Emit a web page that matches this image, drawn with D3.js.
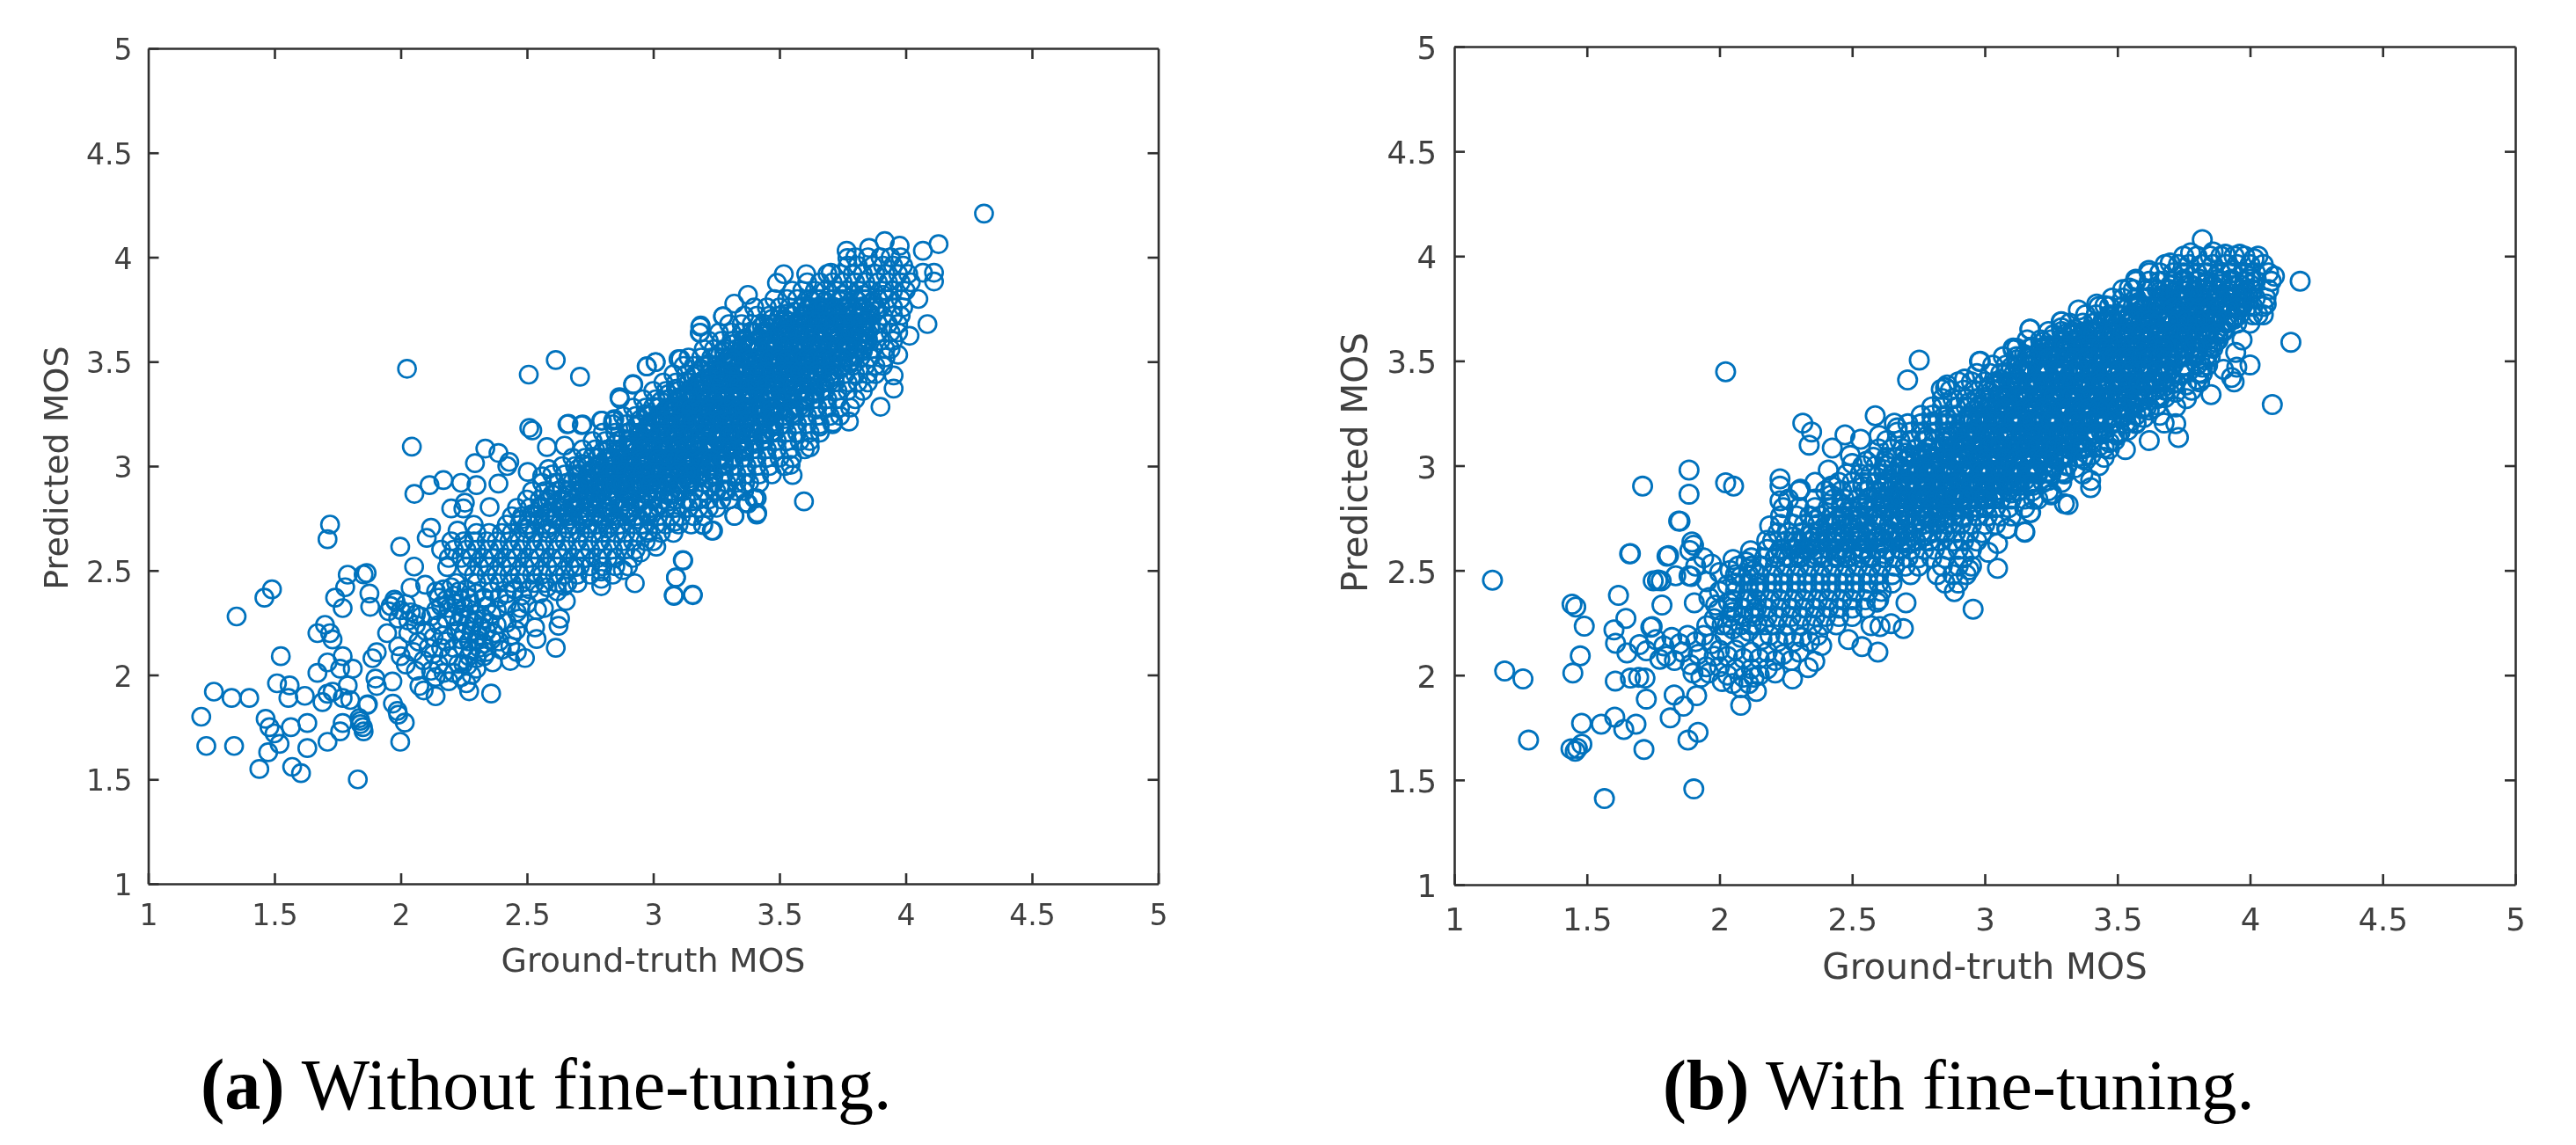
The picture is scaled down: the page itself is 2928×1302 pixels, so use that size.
<!DOCTYPE html>
<meta charset="utf-8">
<script src="https://d3js.org/d3.v7.min.js"></script>
<style>
	body{margin:0;background:#fff;}
	.plot{filter:blur(.6px);}
	.axis text{font-family:'DejaVu Sans',sans-serif;fill:#404040;}
	.axis path,.axis line{stroke:#303030;stroke-width:2.6;}
	.label{font-family:'DejaVu Sans',sans-serif;fill:#404040;}
	.caption{font-family:'Liberation Serif',serif;fill:#000;}
</style>
<div id="chart"></div>
<script>
var xTicks = [1,1.5,2,2.5,3,3.5,4,4.5,5]
var yTicks = [1,1.5,2,2.5,3,3.5,4,4.5,5]
var xTitle = "Ground-truth MOS"
var yTitle = "Predicted MOS"
var markColor = "#0072BD"

// without fine-tuning: the circles that can be told apart
var leftPoints = [[1.21,1.80],[1.23,1.66],[1.26,1.92],[1.33,1.89],[1.40,1.89],[1.34,1.66],[1.35,2.28],[1.46,2.37],[1.49,2.41],[1.44,1.55],[1.475,1.63],[1.465,1.79],[1.48,1.75],[1.50,1.72],[1.52,1.67],[1.525,2.09],[1.51,1.96],[1.56,1.95],[1.555,1.89],[1.565,1.75],[1.62,1.90],[1.63,1.77],[1.63,1.65],[1.57,1.56],[1.605,1.53],[1.83,1.50],[1.71,1.68],[1.76,1.73],[1.77,1.77],[1.84,1.78],[1.85,1.75],[1.87,1.86],[1.99,1.81],[1.69,1.87],[1.71,1.91],[1.73,1.92],[1.77,1.89],[1.80,1.88],[1.79,1.95],[1.67,2.01],[1.71,2.06],[1.77,2.09],[1.81,2.03],[1.76,2.03],[1.67,2.20],[1.70,2.24],[1.72,2.20],[1.73,2.17],[1.74,2.37],[1.77,2.32],[1.79,2.48],[1.78,2.42],[1.72,2.72],[1.71,2.65],[2.025,3.466],[2.507,3.438],[2.614,3.508],[2.71,3.428],[2.044,3.093],[2.521,3.171],[2.509,3.183],[2.66,3.20],[2.72,3.20],[2.794,3.218],[2.846,3.225],[2.866,3.33],[2.92,3.39],[2.974,3.477],[3.009,3.498],[3.10,3.512],[3.186,3.667],[3.186,3.639],[3.276,3.716],[2.579,3.091],[2.649,3.098],[2.335,3.084],[2.387,3.063],[2.294,3.014],[2.422,3.0],[2.43,3.02],[2.503,2.972],[2.585,2.986],[2.56,2.951],[2.169,2.933],[2.114,2.909],[2.054,2.867],[2.239,2.92],[2.30,2.909],[2.387,2.916],[2.352,2.804],[2.2,2.797],[2.248,2.797],[2.254,2.825],[2.12,2.705],[2.103,2.656],[2.225,2.691],[2.289,2.719],[1.998,2.614],[2.053,2.519],[2.184,2.516],[2.097,2.432],[2.039,2.418],[1.865,2.488],[1.853,2.481],[1.876,2.39],[1.879,2.326],[1.952,2.305],[1.975,2.361],[1.946,2.2],[1.905,2.109],[1.888,2.08],[1.99,2.137],[1.967,1.969],[1.905,1.947],[1.9,1.983],[1.867,1.856],[1.969,1.863],[1.987,1.828],[2.016,1.772],[1.998,1.68],[1.841,1.765],[1.853,1.73],[1.836,1.793],[2.074,1.947],[2.091,1.926],[2.138,1.898],[2.138,1.99],[2.271,1.922],[2.358,1.911],[2.614,2.13],[2.538,2.172],[2.532,2.228],[2.492,2.081],[2.434,2.067],[2.364,2.06],[2.631,2.27],[2.625,2.235],[2.654,2.354],[2.648,2.425],[2.567,2.32],[2.474,2.32],[2.457,2.214],[2.434,2.137],[2.265,2.046],[2.248,2.053],[2.228,2.053],[2.794,2.425],[2.794,2.46],[2.794,2.495],[2.927,2.439],[2.88,2.502],[2.69,2.516],[3.119,2.548],[3.09,2.467],[3.082,2.378],[3.157,2.382],[3.012,2.614],[2.95,2.586],[2.98,2.691],[3.237,2.691],[3.198,2.717],[3.084,2.733],[3.322,2.762],[3.412,2.776],[3.368,2.825],[3.41,2.846],[3.282,2.888],[3.229,2.902],[3.363,2.916],[4.31,4.209],[4.13,4.063],[4.068,4.031],[3.976,4.055],[3.917,4.077],[3.855,4.045],[3.766,4.031],[3.769,3.996],[4.112,3.926],[4.112,3.884],[4.068,3.926],[4.05,3.8],[4.086,3.68],[4.015,3.624],[3.97,3.533],[3.952,3.434],[3.952,3.371],[3.9,3.284],[3.775,3.213],[3.712,3.21],[3.659,3.189],[3.62,3.09],[3.552,2.957],[3.544,3.006],[3.597,2.831],[3.41,2.768],[3.401,2.845],[3.375,2.82],[3.321,2.761],[3.232,2.691],[3.197,2.719],[3.286,2.88],[3.117,2.55],[3.09,2.466],[3.081,2.382],[3.156,2.385],[3.152,2.831],[3.517,3.919],[3.49,3.877],[3.606,3.919],[3.703,3.926],[3.375,3.82],[3.321,3.778],[3.277,3.718],[3.188,3.673],[3.184,3.638],[3.108,3.512],[3.01,3.498],[2.975,3.477],[2.921,3.393],[2.868,3.322],[2.797,3.217],[2.664,3.203],[2.717,3.196],[2.841,3.217],
[1.96,2.33],[1.98,2.35],[2.0,2.31],[2.02,2.34],[2.04,2.30],[1.99,2.27],[2.03,2.26],[2.06,2.24],[2.08,2.28],[2.10,2.21],[2.07,2.16],[2.11,2.13],[2.05,2.11],[2.09,2.07],[2.13,2.10],[2.15,2.05],[2.17,2.01],[2.12,2.02],[2.06,2.02],[2.02,2.05],[2.00,2.09],[2.19,1.97],[2.21,2.01],[2.24,1.99],[2.26,1.96],[2.28,2.00],[2.30,2.03],[2.12,2.28],[2.15,2.24],[2.18,2.27],[2.13,2.18],[2.17,2.19],[2.16,2.13],[2.19,2.09],[2.21,2.13],[2.18,2.16],[2.03,2.2],[2.06,2.29],
[2.14,2.40],[2.17,2.41],[2.20,2.42],[2.23,2.40],[2.26,2.41],[2.15,2.37],[2.18,2.36],[2.21,2.38],[2.24,2.36],[2.27,2.37],[2.30,2.39],[2.16,2.33],[2.19,2.32],[2.22,2.34],[2.25,2.32],[2.28,2.34],[2.14,2.31],[2.33,2.37],[2.36,2.40],[2.39,2.37],[2.42,2.39],[2.45,2.41],[2.48,2.38],[2.51,2.41],[2.55,2.39],[2.58,2.42],[2.62,2.40],[2.34,2.33],[2.38,2.31],[2.42,2.34],[2.46,2.30],[2.50,2.34],[2.54,2.31],
[2.21,2.28],[2.24,2.29],[2.27,2.27],[2.30,2.29],[2.33,2.27],[2.36,2.29],[2.23,2.25],[2.26,2.24],[2.29,2.25],[2.32,2.23],[2.35,2.25],[2.38,2.24],[2.22,2.21],[2.25,2.20],[2.28,2.21],[2.31,2.19],[2.34,2.21],[2.37,2.20],[2.24,2.17],[2.27,2.16],[2.30,2.17],[2.33,2.15],[2.36,2.17],[2.39,2.16],[2.25,2.13],[2.28,2.12],[2.31,2.13],[2.34,2.11],[2.27,2.09],[2.30,2.08],[2.33,2.09],[2.42,2.25],[2.47,2.27],[2.44,2.19],[2.40,2.12],[2.46,2.11]]

// without fine-tuning: the solid band, row by row
var leftCoreY = [4.00,3.96,3.92,3.88,3.84,3.80,3.76,3.72,3.68,3.64,3.60,3.56,3.52,3.48,3.44,3.40,3.36,3.32,3.28,3.24,3.20,3.16,3.12,3.08,3.04,3.00,2.96,2.92,2.88,2.84,2.80,2.76,2.72,2.68,2.64,2.60,2.56,2.52,2.48,2.44]
var leftCoreX = [
[3.80,3.85,3.90,3.94,3.98],
[3.77,3.81,3.87,3.91,3.95,3.99],
[3.69,3.74,3.79,3.83,3.88,3.92,3.97,4.01],
[3.61,3.66,3.71,3.75,3.80,3.84,3.89,3.93,3.98,4.02],
[3.55,3.59,3.64,3.68,3.73,3.77,3.82,3.86,3.91,3.95,4.00],
[3.48,3.53,3.57,3.62,3.66,3.71,3.75,3.80,3.84,3.89,3.93,3.98],
[3.40,3.45,3.50,3.54,3.59,3.63,3.68,3.72,3.77,3.81,3.86,3.90,3.95,3.99],
[3.36,3.41,3.46,3.50,3.55,3.59,3.64,3.68,3.73,3.77,3.82,3.86,3.91,3.95,3.98],
[3.30,3.35,3.39,3.44,3.48,3.53,3.57,3.62,3.66,3.71,3.75,3.80,3.84,3.89,3.93,3.97],
[3.26,3.31,3.35,3.40,3.44,3.49,3.53,3.58,3.62,3.67,3.71,3.76,3.80,3.85,3.89,3.94,3.97],
[3.22,3.27,3.31,3.36,3.40,3.45,3.49,3.54,3.58,3.63,3.67,3.72,3.76,3.81,3.85,3.90,3.95],
[3.20,3.24,3.29,3.33,3.38,3.42,3.47,3.51,3.56,3.60,3.65,3.69,3.74,3.78,3.83,3.87,3.92,3.94],
[3.14,3.19,3.23,3.28,3.32,3.37,3.41,3.46,3.50,3.55,3.59,3.64,3.68,3.73,3.77,3.82,3.86,3.92],
[3.12,3.16,3.21,3.25,3.30,3.34,3.39,3.43,3.48,3.52,3.57,3.61,3.66,3.70,3.75,3.79,3.84,3.88,3.91],
[3.08,3.13,3.17,3.22,3.26,3.31,3.35,3.40,3.44,3.49,3.53,3.58,3.62,3.67,3.71,3.76,3.80,3.85,3.88],
[3.04,3.09,3.14,3.18,3.23,3.27,3.32,3.36,3.41,3.45,3.50,3.54,3.59,3.63,3.68,3.72,3.77,3.81,3.85],
[3.00,3.05,3.10,3.14,3.19,3.23,3.28,3.32,3.37,3.41,3.46,3.50,3.55,3.59,3.64,3.68,3.73,3.77,3.83],
[2.96,3.01,3.06,3.10,3.15,3.19,3.24,3.28,3.33,3.37,3.42,3.46,3.51,3.55,3.60,3.64,3.69,3.73,3.80],
[2.92,2.97,3.02,3.06,3.11,3.15,3.20,3.24,3.29,3.33,3.38,3.42,3.47,3.51,3.56,3.60,3.65,3.69,3.74,3.78],
[2.88,2.93,2.98,3.02,3.07,3.11,3.16,3.20,3.25,3.29,3.34,3.38,3.43,3.47,3.52,3.56,3.61,3.65,3.70,3.74],
[2.84,2.89,2.94,2.98,3.03,3.07,3.12,3.16,3.21,3.25,3.30,3.34,3.39,3.43,3.48,3.52,3.57,3.61,3.66,3.71],
[2.80,2.85,2.90,2.94,2.99,3.03,3.08,3.12,3.17,3.21,3.26,3.30,3.35,3.39,3.44,3.48,3.53,3.57,3.62,3.66],
[2.76,2.81,2.86,2.90,2.95,2.99,3.04,3.08,3.13,3.17,3.22,3.26,3.31,3.35,3.40,3.44,3.49,3.53,3.58,3.62],
[2.72,2.77,2.82,2.86,2.91,2.95,3.00,3.04,3.09,3.13,3.18,3.22,3.27,3.31,3.36,3.40,3.45,3.49,3.54,3.60],
[2.68,2.73,2.78,2.82,2.87,2.91,2.96,3.00,3.05,3.09,3.14,3.18,3.23,3.27,3.32,3.36,3.41,3.45,3.50,3.55],
[2.64,2.69,2.74,2.78,2.83,2.87,2.92,2.96,3.01,3.05,3.10,3.14,3.19,3.23,3.28,3.32,3.37,3.41,3.46,3.52],
[2.60,2.65,2.70,2.74,2.79,2.83,2.88,2.92,2.97,3.01,3.06,3.10,3.15,3.19,3.24,3.28,3.33,3.37,3.42,3.47],
[2.56,2.61,2.66,2.70,2.75,2.79,2.84,2.88,2.93,2.97,3.02,3.06,3.11,3.15,3.20,3.24,3.29,3.33,3.38,3.42],
[2.52,2.57,2.62,2.66,2.71,2.75,2.80,2.84,2.89,2.93,2.98,3.02,3.07,3.11,3.16,3.20,3.25,3.29,3.33,3.36],
[2.50,2.55,2.59,2.64,2.68,2.73,2.77,2.82,2.86,2.91,2.95,3.00,3.04,3.09,3.13,3.18,3.22,3.27,3.30],
[2.46,2.51,2.55,2.60,2.64,2.69,2.73,2.78,2.82,2.87,2.91,2.96,3.00,3.05,3.09,3.14,3.18,3.22,3.25],
[2.44,2.48,2.53,2.57,2.62,2.66,2.71,2.75,2.80,2.84,2.89,2.93,2.98,3.02,3.07,3.11,3.16,3.20],
[2.42,2.47,2.51,2.56,2.60,2.65,2.69,2.74,2.78,2.83,2.87,2.92,2.96,3.01,3.05,3.10,3.15],
[2.30,2.35,2.40,2.44,2.49,2.53,2.58,2.62,2.67,2.71,2.76,2.80,2.85,2.89,2.94,2.98,3.03,3.08],
[2.20,2.25,2.29,2.34,2.38,2.43,2.47,2.52,2.56,2.61,2.65,2.70,2.74,2.79,2.83,2.88,2.92,2.97,3.00],
[2.16,2.21,2.26,2.30,2.35,2.39,2.44,2.48,2.53,2.57,2.62,2.66,2.71,2.75,2.80,2.84,2.89,2.93],
[2.19,2.24,2.28,2.33,2.37,2.42,2.46,2.51,2.55,2.60,2.64,2.69,2.73,2.78,2.82,2.85,2.92],
[2.26,2.31,2.35,2.40,2.44,2.49,2.53,2.58,2.62,2.67,2.71,2.75,2.80,2.85,2.90],
[2.29,2.34,2.38,2.43,2.47,2.52,2.56,2.61,2.65,2.70,2.75,2.84],
[2.22,2.30,2.35,2.39,2.44,2.48,2.53,2.57,2.62,2.66,2.70]]
// extra rows inside the band where it reads as solid
var leftFillY = [3.82,3.74,3.66,3.58,3.50,3.42,3.34,3.26,3.18,3.10,3.02,2.94,2.86,2.78,2.70,
	3.79,3.765,3.73,3.705,3.67,3.645,3.61,3.585,3.55,3.525,3.49,3.465,3.43,3.405,3.37,3.345,3.31,3.285,3.25,3.225,3.19,3.165,3.13,3.105,3.07,3.045,3.01,2.985,2.95,2.925,2.89,2.865,2.83,2.805,2.77,2.745,
	3.752,3.692,3.632,3.572,3.512,3.452,3.392,3.332,3.272,3.212,3.152,3.092,3.032,2.972,2.912]
var leftFillX = [
[3.75,3.83,3.91],
[3.56,3.64,3.72,3.80,3.88],
[3.46,3.54,3.62,3.70,3.78,3.86],
[3.38,3.46,3.54,3.62,3.70,3.78,3.84],
[3.30,3.38,3.46,3.54,3.62,3.70,3.78],
[3.22,3.30,3.38,3.46,3.54,3.62,3.70],
[3.14,3.22,3.30,3.38,3.46,3.54,3.62],
[3.06,3.14,3.22,3.30,3.38,3.46,3.54],
[2.98,3.06,3.14,3.22,3.30,3.38,3.46],
[2.90,2.98,3.06,3.14,3.22,3.30,3.38],
[2.82,2.90,2.98,3.06,3.14,3.22,3.30],
[2.74,2.82,2.90,2.98,3.06,3.14,3.22],
[2.66,2.74,2.82,2.90,2.98,3.06],
[2.58,2.66,2.74,2.82,2.90,2.98],
[2.50,2.58,2.66,2.74,2.82],
[3.63,3.68,3.74,3.81,3.87],
[3.59,3.66,3.71,3.77,3.83,3.88],
[3.53,3.61,3.67,3.72,3.79,3.86],
[3.47,3.52,3.59,3.65,3.73,3.78,3.85],
[3.43,3.51,3.56,3.63,3.69,3.75,3.81,3.86],
[3.39,3.45,3.52,3.57,3.64,3.72,3.77,3.84],
[3.36,3.43,3.48,3.55,3.61,3.67,3.73,3.79,3.85],
[3.32,3.37,3.45,3.51,3.56,3.63,3.69,3.76,3.83],
[3.28,3.35,3.41,3.47,3.53,3.59,3.65,3.71,3.77,3.83],
[3.25,3.31,3.36,3.44,3.49,3.56,3.61,3.68,3.74,3.80],
[3.22,3.29,3.34,3.41,3.47,3.52,3.59,3.65,3.71,3.78],
[3.19,3.25,3.32,3.37,3.43,3.51,3.56,3.62,3.67,3.74],
[3.16,3.23,3.28,3.35,3.41,3.47,3.53,3.58,3.65,3.72],
[3.13,3.19,3.26,3.31,3.38,3.43,3.49,3.56,3.63,3.70],
[3.09,3.17,3.22,3.29,3.34,3.41,3.47,3.53,3.59,3.67],
[3.06,3.13,3.19,3.25,3.32,3.37,3.44,3.51,3.57,3.64],
[3.03,3.09,3.15,3.21,3.28,3.33,3.39,3.46,3.53,3.60],
[3.00,3.07,3.12,3.19,3.25,3.31,3.37,3.43,3.49,3.58],
[2.97,3.03,3.09,3.16,3.21,3.27,3.33,3.41,3.47,3.55],
[2.95,3.01,3.07,3.13,3.19,3.26,3.31,3.37,3.45,3.52],
[2.93,2.98,3.05,3.11,3.17,3.23,3.29,3.36,3.42,3.50],
[2.91,2.97,3.03,3.09,3.14,3.21,3.27,3.33,3.39,3.47],
[2.88,2.95,3.01,3.06,3.13,3.18,3.25,3.31,3.37,3.44],
[2.85,2.91,2.97,3.04,3.09,3.16,3.21,3.28,3.34,3.40],
[2.80,2.87,2.93,2.99,3.05,3.11,3.17,3.23,3.29,3.36],
[2.76,2.83,2.89,2.95,3.01,3.08,3.13,3.19,3.26,3.32],
[2.72,2.79,2.85,2.91,2.97,3.03,3.09,3.15,3.21,3.28],
[2.70,2.76,2.83,2.88,2.95,3.01,3.07,3.13,3.22],
[2.70,2.77,2.82,2.89,2.95,3.02,3.07,3.13,3.18],
[2.68,2.75,2.81,2.87,2.93,2.99,3.05,3.14],
[2.64,2.71,2.77,2.83,2.89,2.95,3.01,3.10],
[2.60,2.67,2.73,2.79,2.85,2.91,2.97,3.08],
[2.58,2.64,2.71,2.76,2.83,2.89,2.95,3.06],
[2.56,2.63,2.68,2.75,2.81,2.87,2.93,3.02],
[2.52,2.59,2.65,2.71,2.77,2.83,2.90,2.98],
[2.48,2.55,2.61,2.67,2.73,2.79,2.85,2.94],
[3.61,3.65,3.69,3.72,3.76,3.79,3.83],
[3.51,3.54,3.58,3.61,3.65,3.68,3.72,3.75,3.79,3.83],
[3.43,3.46,3.50,3.53,3.57,3.60,3.64,3.67,3.71,3.74,3.78,3.82],
[3.35,3.38,3.42,3.45,3.49,3.52,3.56,3.59,3.63,3.66,3.70,3.73,3.77,3.81],
[3.29,3.32,3.36,3.39,3.43,3.46,3.50,3.53,3.57,3.60,3.64,3.67,3.71,3.75],
[3.23,3.26,3.30,3.33,3.37,3.40,3.44,3.47,3.51,3.54,3.58,3.61,3.65,3.70],
[3.17,3.20,3.24,3.27,3.31,3.34,3.38,3.41,3.45,3.48,3.52,3.55,3.59,3.66],
[3.11,3.14,3.18,3.21,3.25,3.28,3.32,3.35,3.39,3.42,3.46,3.49,3.53,3.60],
[3.05,3.08,3.12,3.15,3.19,3.22,3.26,3.29,3.33,3.36,3.40,3.43,3.47,3.54],
[2.99,3.02,3.06,3.09,3.13,3.16,3.20,3.23,3.27,3.30,3.34,3.37,3.41,3.48],
[2.95,2.98,3.02,3.05,3.09,3.12,3.16,3.19,3.23,3.26,3.30,3.33,3.37,3.44],
[2.89,2.92,2.96,2.99,3.03,3.06,3.10,3.13,3.17,3.20,3.24,3.27,3.31,3.36],
[2.81,2.84,2.88,2.91,2.95,2.98,3.02,3.05,3.09,3.12,3.16,3.19,3.23,3.28],
[2.75,2.78,2.82,2.85,2.89,2.92,2.96,2.99,3.03,3.06,3.10,3.13,3.17,3.21],
[2.71,2.74,2.78,2.81,2.85,2.88,2.92,2.95,2.99,3.02,3.06,3.10,3.13]]

// with fine-tuning: the circles that can be told apart
var rightPoints = [[1.144,2.453],[1.19,2.02],[1.259,1.982],[1.28,1.69],[1.566,1.411],[1.903,1.457],[1.44,1.649],[1.456,1.637],[1.481,1.671],[1.464,1.651],[1.48,1.77],[1.554,1.766],[1.605,1.8],[1.639,1.741],[1.685,1.766],[1.715,1.645],[1.444,2.339],[1.458,2.325],[1.49,2.234],[1.475,2.092],[1.447,2.01],[1.619,2.381],[1.647,2.271],[1.602,2.216],[1.608,2.152],[1.607,1.972],[1.661,2.579],[1.746,2.232],[1.651,2.106],[1.698,2.146],[1.724,2.116],[1.719,1.986],[1.724,1.886],[1.664,1.986],[1.695,1.99],[1.775,2.076],[1.783,2.335],[1.766,2.451],[1.75,2.45],[1.78,2.45],[1.808,2.571],[1.851,2.735],[1.885,2.864],[1.902,2.62],[1.888,2.595],[1.893,2.471],[1.905,2.345],[1.829,1.906],[1.864,1.852],[1.914,1.902],[1.814,1.796],[1.881,1.69],[1.919,1.727],[2.08,1.856],[2.139,1.922],[2.275,1.982],[2.334,2.036],[2.359,2.066],[2.385,2.142],[2.486,2.17],[2.537,2.136],[2.597,2.11],[2.571,2.236],[2.605,2.232],[2.647,2.246],[2.693,2.222],[2.703,2.345],[2.956,2.315],[2.885,2.399],[2.023,3.448],[2.753,3.504],[2.709,3.409],[2.836,3.364],[2.858,3.385],[2.98,3.497],[3.107,3.553],[3.17,3.651],[3.289,3.686],[3.289,3.658],[2.924,3.413],[2.803,3.21],[2.587,3.238],[2.659,3.203],[2.67,3.18],[2.314,3.203],[2.347,3.161],[2.338,3.098],[2.473,3.147],[2.425,3.084],[2.532,3.126],[2.602,3.144],[2.493,3.049],[2.554,3.021],[2.50,3.01],[2.41,2.979],[2.626,3.021],[1.885,2.979],[1.71,2.902],[2.023,2.918],[2.053,2.902],[1.846,2.736],[2.228,2.937],[2.228,2.902],[2.305,2.888],[2.228,2.832],[2.421,2.902],[2.421,2.86],[2.189,2.713],[2.178,2.643],[2.117,2.594],[2.051,2.552],[1.896,2.636],[1.802,2.568],[1.664,2.58],[1.769,2.454],[1.835,2.474],[1.885,2.474],[1.952,2.446],[1.996,2.313],[1.985,2.335],[2.034,2.348],[1.741,2.229],[1.952,2.236],[2.593,2.348],[3.048,2.51],[3.151,2.682],[3.085,2.7],[3.048,2.629],[3.013,2.587],[2.941,2.503],[3.173,2.776],[3.25,2.86],[3.184,2.839],[3.3,2.818],[3.82,4.079],[4.189,3.88],[4.154,3.589],[4.084,3.292],[4.092,3.904],[3.946,3.54],[4.0,3.481],[3.93,3.421],[3.94,3.40],[3.853,3.339],[3.73,3.134],[3.676,3.204],[3.53,3.077],[3.399,2.895],[3.399,2.93],[3.314,2.814],[3.253,2.867],[3.15,2.685],[3.171,2.776],[3.083,2.699],[3.699,3.967],[3.618,3.932],[3.545,3.848],[3.569,3.89],[3.422,3.771],[3.453,3.764],[3.353,3.743],[3.288,3.687],[3.171,3.652],[3.107,3.561],[2.983,3.498],[2.852,3.372],[3.861,4.02],[3.907,4.009],[3.961,4.009],[4.015,3.988],[4.061,3.771],[3.776,4.016],[3.9,3.46],[3.95,3.47],[3.72,3.2],[3.62,3.12],[3.97,3.6],[4.03,3.72],
[1.76,2.17],[1.79,2.14],[1.82,2.18],[1.85,2.15],[1.88,2.19],[1.91,2.16],[1.94,2.19],[1.97,2.15],[1.80,2.09],[1.83,2.07],[1.86,2.11],[1.89,2.05],[1.92,2.10],[1.95,2.04],[1.98,2.09],[1.90,2.01],[1.93,1.99],[1.96,2.01],[2.00,2.04],[2.03,2.00],[2.06,2.03],[2.09,1.99],[2.12,2.03],[2.15,2.00],[2.01,1.97],[2.05,1.96],[2.08,1.94],[2.11,1.96],[2.13,1.99],[2.00,2.12],[2.03,2.09],[2.06,2.12],[2.09,2.08],[2.12,2.11],[2.15,2.08],[2.18,2.11],[2.21,2.07],[2.24,2.10],[2.27,2.07],[2.30,2.11],[2.18,2.03],[2.21,2.01],[2.16,2.17],[2.19,2.19],[2.22,2.16],[2.25,2.19],[2.28,2.16],[2.31,2.18],[2.34,2.16],[2.37,2.19],[2.02,2.19],[2.05,2.22],[2.08,2.18],[2.11,2.21],[2.14,2.24],[1.98,2.27],[2.01,2.24],[2.05,2.30],[1.96,2.37],[2.0,2.40],[2.03,2.43],[1.97,2.53],[2.0,2.49],[2.04,2.50],[2.08,2.47],[1.91,2.52],[1.94,2.56],[2.10,2.54],[2.13,2.50],[2.14,2.42],[2.11,2.36],[2.13,2.30],[2.09,2.28]]

// with fine-tuning: the solid band, row by row
var rightCoreY = [4.00,3.96,3.92,3.88,3.84,3.80,3.76,3.72,3.68,3.64,3.60,3.56,3.52,3.48,3.44,3.40,3.36,3.32,3.28,3.24,3.20,3.16,3.12,3.08,3.04,3.00,2.96,2.92,2.88,2.84,2.80,2.76,2.72,2.68,2.64,2.60,2.56,2.52,2.48,2.44,2.40,2.36,2.32,2.28,2.24]
var rightCoreX = [
[3.75,3.80,3.85,3.89,3.94,3.98,4.03],
[3.68,3.73,3.77,3.82,3.86,3.91,3.95,4.00,4.05],
[3.62,3.66,3.71,3.75,3.80,3.84,3.89,3.93,3.98,4.02,4.07],
[3.57,3.62,3.66,3.71,3.75,3.80,3.84,3.89,3.93,3.98,4.02,4.08],
[3.52,3.56,3.61,3.65,3.70,3.74,3.79,3.83,3.88,3.92,3.97,4.01,4.07],
[3.48,3.52,3.57,3.61,3.66,3.70,3.75,3.79,3.84,3.88,3.93,3.97,4.02,4.06],
[3.43,3.47,3.52,3.56,3.61,3.65,3.70,3.74,3.79,3.83,3.88,3.92,3.97,4.01,4.05],
[3.38,3.42,3.47,3.51,3.56,3.60,3.65,3.69,3.74,3.78,3.83,3.87,3.92,3.96,4.01,4.05],
[3.32,3.37,3.41,3.46,3.50,3.55,3.59,3.64,3.68,3.73,3.77,3.82,3.86,3.91,3.95,4.00],
[3.24,3.29,3.33,3.38,3.42,3.47,3.51,3.56,3.60,3.65,3.69,3.74,3.78,3.83,3.87,3.90],
[3.16,3.21,3.25,3.30,3.34,3.39,3.43,3.48,3.52,3.57,3.61,3.66,3.70,3.75,3.79,3.84,3.88],
[3.12,3.17,3.21,3.26,3.30,3.35,3.39,3.44,3.48,3.53,3.57,3.62,3.66,3.71,3.75,3.80,3.86],
[3.07,3.12,3.16,3.21,3.25,3.30,3.34,3.39,3.43,3.48,3.52,3.57,3.61,3.66,3.70,3.75,3.79,3.85],
[3.03,3.08,3.12,3.17,3.21,3.26,3.30,3.35,3.39,3.44,3.48,3.53,3.57,3.62,3.66,3.71,3.75,3.80,3.84],
[2.97,3.02,3.06,3.11,3.15,3.20,3.24,3.29,3.33,3.38,3.42,3.47,3.51,3.56,3.60,3.65,3.69,3.74,3.82],
[2.90,2.95,3.00,3.04,3.09,3.13,3.18,3.22,3.27,3.31,3.36,3.40,3.45,3.49,3.54,3.58,3.63,3.67,3.72,3.81],
[2.87,2.92,2.96,3.01,3.05,3.10,3.14,3.19,3.23,3.28,3.32,3.37,3.41,3.46,3.50,3.55,3.59,3.64,3.68,3.78],
[2.84,2.88,2.93,2.97,3.02,3.06,3.11,3.15,3.20,3.24,3.29,3.33,3.38,3.42,3.47,3.51,3.56,3.60,3.65,3.76],
[2.80,2.84,2.89,2.93,2.98,3.02,3.07,3.11,3.16,3.20,3.25,3.29,3.34,3.38,3.43,3.47,3.52,3.56,3.61,3.72],
[2.76,2.80,2.85,2.89,2.94,2.98,3.03,3.07,3.12,3.16,3.21,3.25,3.30,3.34,3.39,3.43,3.48,3.52,3.57,3.66],
[2.71,2.76,2.80,2.85,2.89,2.94,2.98,3.03,3.07,3.12,3.16,3.21,3.25,3.30,3.34,3.39,3.43,3.48,3.53,3.57],
[2.67,2.72,2.76,2.81,2.85,2.90,2.94,2.99,3.03,3.08,3.12,3.17,3.21,3.26,3.30,3.35,3.39,3.44,3.51],
[2.63,2.68,2.72,2.77,2.81,2.86,2.90,2.95,2.99,3.04,3.08,3.13,3.17,3.22,3.26,3.31,3.35,3.40,3.49],
[2.60,2.65,2.69,2.74,2.78,2.83,2.87,2.92,2.96,3.01,3.05,3.10,3.14,3.19,3.23,3.28,3.32,3.37,3.47],
[2.58,2.63,2.67,2.72,2.76,2.81,2.85,2.90,2.94,2.99,3.03,3.08,3.12,3.17,3.21,3.26,3.30,3.35,3.45],
[2.54,2.59,2.63,2.68,2.72,2.77,2.81,2.86,2.90,2.95,2.99,3.04,3.08,3.13,3.17,3.22,3.26,3.31,3.43],
[2.48,2.53,2.57,2.62,2.66,2.71,2.75,2.80,2.84,2.89,2.93,2.98,3.02,3.07,3.11,3.16,3.20,3.25,3.30,3.37],
[2.36,2.45,2.50,2.54,2.59,2.63,2.68,2.72,2.77,2.81,2.86,2.90,2.95,2.99,3.04,3.08,3.13,3.17,3.22,3.29],
[2.30,2.40,2.46,2.50,2.55,2.59,2.64,2.68,2.73,2.77,2.82,2.86,2.91,2.95,3.00,3.04,3.09,3.13,3.18,3.24],
[2.26,2.36,2.43,2.47,2.52,2.56,2.61,2.65,2.70,2.74,2.79,2.83,2.88,2.92,2.97,3.01,3.06,3.10,3.15,3.20],
[2.24,2.30,2.36,2.41,2.46,2.50,2.55,2.59,2.64,2.68,2.73,2.77,2.82,2.86,2.91,2.95,3.00,3.04,3.09,3.15],
[2.23,2.29,2.34,2.38,2.43,2.47,2.52,2.56,2.61,2.65,2.70,2.74,2.79,2.83,2.88,2.92,2.97,3.01,3.06,3.10],
[2.23,2.28,2.32,2.37,2.41,2.46,2.50,2.55,2.59,2.64,2.68,2.73,2.77,2.82,2.86,2.91,2.95,3.00,3.04],
[2.22,2.26,2.31,2.35,2.40,2.44,2.49,2.53,2.58,2.62,2.67,2.71,2.76,2.80,2.85,2.89,2.94,2.99],
[2.20,2.25,2.29,2.34,2.38,2.43,2.47,2.52,2.56,2.61,2.65,2.70,2.74,2.79,2.83,2.88,2.92,2.97],
[2.18,2.23,2.27,2.32,2.36,2.41,2.45,2.50,2.54,2.59,2.63,2.68,2.72,2.77,2.81,2.86,2.90,2.95],
[2.12,2.17,2.21,2.26,2.30,2.35,2.39,2.44,2.48,2.53,2.57,2.62,2.66,2.71,2.75,2.80,2.85,2.92],
[2.07,2.12,2.16,2.21,2.25,2.30,2.34,2.39,2.43,2.48,2.52,2.57,2.61,2.66,2.70,2.75,2.84,2.90,2.95],
[2.06,2.11,2.15,2.20,2.24,2.29,2.33,2.38,2.42,2.47,2.51,2.56,2.60,2.65,2.72,2.82,2.88,2.93],
[2.06,2.11,2.15,2.20,2.24,2.29,2.33,2.38,2.42,2.47,2.51,2.56,2.60,2.65,2.85,2.90],
[2.06,2.11,2.15,2.20,2.24,2.29,2.33,2.38,2.42,2.47,2.51,2.56,2.61],
[2.05,2.10,2.14,2.19,2.23,2.28,2.32,2.37,2.41,2.46,2.50,2.55,2.60],
[2.05,2.09,2.14,2.18,2.23,2.27,2.32,2.36,2.41,2.45,2.50,2.55],
[2.04,2.09,2.13,2.18,2.22,2.27,2.31,2.36,2.40,2.45,2.50],
[2.03,2.08,2.12,2.17,2.21,2.26,2.30,2.35,2.39,2.44]]
var rightFillY = [3.86,3.78,3.70,3.62,3.54,3.46,3.38,3.30,3.22,3.14,3.06,2.98,2.90,2.82,2.74,2.66,2.58,
	3.89,3.865,3.83,3.805,3.77,3.745,3.71,3.685,3.65,3.625,3.59,3.565,3.53,3.505,3.47,3.445,3.41,3.385,3.35,3.325,3.29,3.265,3.23,3.205,3.17,3.145,3.11,3.085,3.05,3.025,2.99,2.965,2.93,2.905,2.87,2.845,2.81,2.785,2.75,2.725,2.69,2.665,2.63,2.605,2.57,
	3.812,3.752,3.692,3.632,3.572,3.512,3.452,3.392,3.332,3.272,3.212,3.152,3.092,3.032,2.972,2.912,2.852]
var rightFillX = [
[3.70,3.78,3.86,3.94],
[3.58,3.66,3.74,3.82,3.90,3.98],
[3.46,3.54,3.62,3.70,3.78,3.86,3.94],
[3.36,3.44,3.52,3.60,3.68,3.76,3.84],
[3.24,3.32,3.40,3.48,3.56,3.64,3.72,3.80],
[3.14,3.22,3.30,3.38,3.46,3.54,3.62,3.70],
[3.04,3.12,3.20,3.28,3.36,3.44,3.52,3.60,3.68],
[2.94,3.02,3.10,3.18,3.26,3.34,3.42,3.50,3.58],
[2.86,2.94,3.02,3.10,3.18,3.26,3.34,3.42],
[2.78,2.86,2.94,3.02,3.10,3.18,3.26,3.34],
[2.70,2.78,2.86,2.94,3.02,3.10,3.18,3.26],
[2.62,2.70,2.78,2.86,2.94,3.02,3.10,3.18],
[2.54,2.62,2.70,2.78,2.86,2.94,3.02,3.10],
[2.46,2.54,2.62,2.70,2.78,2.86,2.94],
[2.36,2.44,2.52,2.60,2.68,2.76,2.84],
[2.28,2.36,2.44,2.52,2.60,2.68],
[2.22,2.30,2.38,2.46,2.54,2.62],
[3.75,3.81,3.88,3.93,4.00],
[3.71,3.77,3.83,3.89,3.96,4.00],
[3.66,3.72,3.79,3.85,3.91,3.99],
[3.62,3.69,3.74,3.81,3.87,3.93,3.98],
[3.58,3.65,3.71,3.77,3.83,3.90,3.97],
[3.53,3.59,3.66,3.72,3.78,3.84,3.91,3.96],
[3.47,3.54,3.60,3.67,3.73,3.79,3.86,3.94],
[3.42,3.49,3.55,3.61,3.68,3.74,3.81,3.87,3.92],
[3.34,3.41,3.47,3.54,3.60,3.66,3.73,3.79,3.85,3.90],
[3.26,3.33,3.39,3.45,3.52,3.58,3.65,3.71,3.77,3.84,3.88],
[3.22,3.29,3.35,3.42,3.48,3.54,3.61,3.67,3.74,3.80,3.87],
[3.18,3.24,3.31,3.37,3.44,3.50,3.56,3.63,3.69,3.76,3.85],
[3.15,3.22,3.28,3.34,3.41,3.47,3.54,3.60,3.66,3.73,3.84],
[3.12,3.18,3.25,3.31,3.38,3.44,3.50,3.57,3.63,3.70,3.83],
[3.10,3.17,3.23,3.29,3.36,3.42,3.49,3.55,3.61,3.68,3.82],
[3.08,3.14,3.21,3.27,3.34,3.40,3.46,3.53,3.59,3.66,3.81],
[3.06,3.12,3.19,3.25,3.31,3.38,3.44,3.51,3.57,3.63,3.70,3.80],
[3.04,3.10,3.17,3.23,3.30,3.36,3.42,3.49,3.55,3.62,3.76],
[3.02,3.09,3.15,3.21,3.28,3.34,3.41,3.47,3.53,3.60,3.72],
[3.00,3.06,3.13,3.19,3.26,3.32,3.38,3.45,3.51,3.58,3.68],
[2.98,3.05,3.11,3.17,3.24,3.30,3.37,3.43,3.49,3.56,3.65],
[2.96,3.02,3.09,3.15,3.22,3.28,3.34,3.41,3.47,3.54,3.62],
[2.94,3.01,3.07,3.13,3.20,3.26,3.33,3.39,3.45,3.52,3.60],
[2.92,2.98,3.05,3.11,3.18,3.24,3.30,3.37,3.43,3.57],
[2.90,2.97,3.03,3.09,3.16,3.22,3.29,3.35,3.41,3.54],
[2.88,2.94,3.01,3.07,3.14,3.20,3.26,3.33,3.39,3.50],
[2.85,2.91,2.98,3.04,3.11,3.17,3.23,3.30,3.36,3.47],
[2.80,2.87,2.93,2.99,3.06,3.12,3.19,3.25,3.31,3.38,3.45],
[2.72,2.79,2.85,2.91,2.98,3.04,3.11,3.17,3.23,3.30,3.40],
[2.70,2.76,2.83,2.89,2.96,3.02,3.08,3.15,3.21,3.28,3.38],
[2.68,2.75,2.81,2.87,2.94,3.00,3.07,3.13,3.19,3.26,3.34],
[2.66,2.72,2.79,2.85,2.92,2.98,3.04,3.11,3.17,3.24,3.30],
[2.64,2.71,2.77,2.83,2.90,2.96,3.03,3.09,3.15,3.24],
[2.62,2.68,2.75,2.81,2.88,2.94,3.00,3.07,3.13,3.18],
[2.60,2.67,2.73,2.79,2.86,2.92,2.99,3.05,3.10],
[2.56,2.62,2.69,2.75,2.82,2.88,2.94,3.01,3.04],
[2.54,2.61,2.67,2.73,2.80,2.86,2.93,3.00],
[2.50,2.56,2.63,2.69,2.76,2.82,2.88,2.96],
[2.46,2.53,2.59,2.65,2.72,2.78,2.85,2.92],
[2.42,2.48,2.55,2.61,2.68,2.74,2.80,2.88],
[2.38,2.45,2.51,2.57,2.64,2.70,2.77,2.84],
[2.34,2.40,2.47,2.53,2.60,2.66,2.72,2.78],
[2.30,2.37,2.43,2.49,2.56,2.62,2.69,2.72],
[2.28,2.34,2.41,2.47,2.54,2.60,2.68],
[2.25,2.31,2.37,2.44,2.50,2.57],
[3.67,3.70,3.74,3.77,3.81,3.84,3.88,3.91,3.95,3.97],
[3.57,3.60,3.64,3.67,3.71,3.74,3.78,3.81,3.85,3.88,3.92,3.95],
[3.45,3.48,3.52,3.55,3.59,3.62,3.66,3.69,3.73,3.76,3.80,3.83,3.87,3.91],
[3.31,3.34,3.38,3.41,3.45,3.48,3.52,3.55,3.59,3.62,3.66,3.69,3.73,3.76,3.80,3.83,3.87],
[3.23,3.26,3.30,3.33,3.37,3.40,3.44,3.47,3.51,3.54,3.58,3.61,3.65,3.68,3.72,3.75,3.79,3.84],
[3.17,3.20,3.24,3.27,3.31,3.34,3.38,3.41,3.45,3.48,3.52,3.55,3.59,3.62,3.66,3.69,3.73,3.81],
[3.13,3.16,3.20,3.23,3.27,3.30,3.34,3.37,3.41,3.44,3.48,3.51,3.55,3.58,3.62,3.65,3.69,3.77],
[3.09,3.12,3.16,3.19,3.23,3.26,3.30,3.33,3.37,3.40,3.44,3.47,3.51,3.54,3.58,3.61,3.65,3.71],
[3.05,3.08,3.12,3.15,3.19,3.22,3.26,3.29,3.33,3.36,3.40,3.43,3.47,3.50,3.54,3.57,3.61,3.65],
[3.01,3.04,3.08,3.11,3.15,3.18,3.22,3.25,3.29,3.32,3.36,3.39,3.43,3.46,3.50,3.53,3.59],
[2.97,3.00,3.04,3.07,3.11,3.14,3.18,3.21,3.25,3.28,3.32,3.35,3.39,3.42,3.46,3.49,3.55],
[2.93,2.96,3.00,3.03,3.07,3.10,3.14,3.17,3.21,3.24,3.28,3.31,3.35,3.38,3.42,3.45,3.49],
[2.85,2.88,2.92,2.95,2.99,3.02,3.06,3.09,3.13,3.16,3.20,3.23,3.27,3.30,3.34,3.37,3.43],
[2.77,2.80,2.84,2.87,2.91,2.94,2.98,3.01,3.05,3.08,3.12,3.15,3.19,3.22,3.26,3.29,3.37],
[2.71,2.74,2.78,2.81,2.85,2.88,2.92,2.95,2.99,3.02,3.06,3.09,3.13,3.16,3.20,3.24,3.29],
[2.67,2.70,2.74,2.77,2.81,2.84,2.88,2.91,2.95,2.98,3.02,3.05,3.09,3.12,3.17],
[2.61,2.64,2.68,2.71,2.75,2.78,2.82,2.85,2.89,2.92,2.96,3.00,3.03]]

function rowsToPoints(ys,xs){
	var pts = []
	for(var r in ys){
		for(var i in xs[r]){
			pts.push([xs[r][i],ys[r]])
		}
	}
	return pts
}

var svg = d3.select("#chart").append("svg").attr("width",2928).attr("height",1302)

function drawScatter(points,box,t){
	var xScale = d3.scaleLinear().domain([1,5]).range([box.x0,box.x1])
	var yScale = d3.scaleLinear().domain([1,5]).range([box.y1,box.y0])
	var g = svg.append("g").attr("class","plot")

	g.selectAll(".dot")
		.data(points)
		.enter()
		.append("circle")
		.attr("class","dot")
		.attr("cx",function(d){return xScale(d[0])})
		.attr("cy",function(d){return yScale(d[1])})
		.attr("r",t.r)
		.attr("fill","none")
		.attr("stroke",markColor)
		.attr("stroke-width",t.sw)

	var fmt = d3.format("~g")
	var bottom = d3.axisBottom(xScale).tickValues(xTicks).tickFormat(fmt).tickSizeInner(-12).tickSizeOuter(0).tickPadding(t.padX)
	var top = d3.axisTop(xScale).tickValues(xTicks.slice(1,-1)).tickFormat("").tickSizeInner(-12).tickSizeOuter(0)
	var left = d3.axisLeft(yScale).tickValues(yTicks).tickFormat(fmt).tickSizeInner(-12).tickSizeOuter(0).tickPadding(t.padY)
	var right = d3.axisRight(yScale).tickValues(yTicks.slice(1,-1)).tickFormat("").tickSizeInner(-12).tickSizeOuter(0)

	g.append("g").attr("class","axis").attr("transform","translate(0,"+box.y1+")").call(bottom)
	g.append("g").attr("class","axis").attr("transform","translate(0,"+box.y0+")").call(top)
	g.append("g").attr("class","axis").attr("transform","translate("+box.x0+",0)").call(left)
	g.append("g").attr("class","axis").attr("transform","translate("+box.x1+",0)").call(right)
	g.selectAll(".axis text").attr("font-family",null).style("font-size",t.tick+"px")
	g.selectAll(".axis").filter(function(d,i){return i==2}).selectAll("text").attr("dy",".38em")

	g.append("text").attr("class","label").text(xTitle)
		.attr("x",(box.x0+box.x1)/2).attr("y",t.xTitleY).attr("text-anchor","middle").style("font-size",t.title+"px")
	g.append("text").attr("class","label").text(yTitle)
		.attr("text-anchor","middle").style("font-size",t.title+"px")
		.attr("transform","translate("+t.yTitleX+","+t.yTitleCy+") rotate(-90)")

	var cap = svg.append("text").attr("class","caption").attr("x",t.capX).attr("y",1261).style("font-size",t.capSize+"px")
	cap.append("tspan").attr("font-weight","bold").text(t.capBold)
	cap.append("tspan").text(t.capText)
}

var leftAll = leftPoints.concat(rowsToPoints(leftCoreY,leftCoreX),rowsToPoints(leftFillY,leftFillX))
var rightAll = rightPoints.concat(rowsToPoints(rightCoreY,rightCoreX),rowsToPoints(rightFillY,rightFillX))

drawScatter(leftAll,{x0:168.5,x1:1316.5,y0:55,y1:1005},
	{r:10,sw:2.7,tick:33,title:38,padX:23.5,padY:18,xTitleY:1105,yTitleX:77,yTitleCy:532,capX:228,capSize:82,capBold:"(a)",capText:" Without fine-tuning."})
drawScatter(rightAll,{x0:1653,x1:2859,y0:53,y1:1006},
	{r:10.6,sw:2.8,tick:35.5,title:40.6,padX:27,padY:20,xTitleY:1113,yTitleX:1554,yTitleCy:526,capX:1890,capSize:80.5,capBold:"(b)",capText:" With fine-tuning."})
</script>
